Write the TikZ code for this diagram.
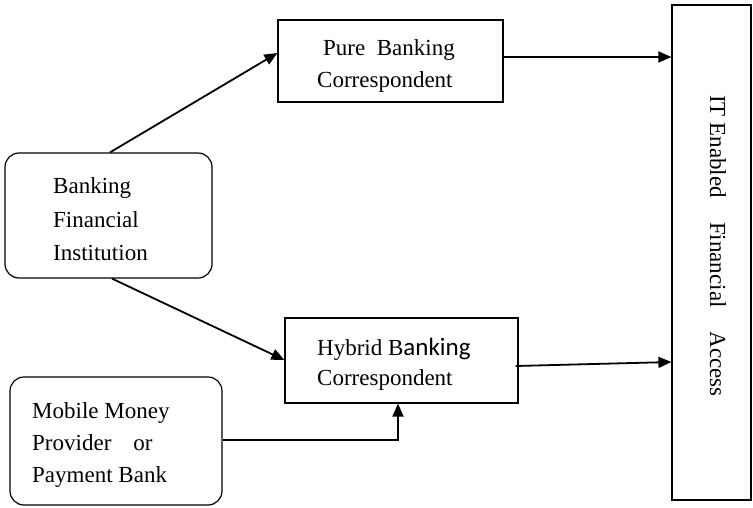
\documentclass[tikz,border=0pt]{standalone}
\usepackage{fontspec}
\setmainfont{Liberation Serif}
\newfontfamily\altsans{Carlito}
\usetikzlibrary{arrows.meta,calc}
\begin{document}
\begin{tikzpicture}[x=1pt,y=1pt,
  box/.style={draw,line width=1.2pt,inner sep=0pt},
  rbox/.style={box,rounded corners=14pt},
  lbl/.style={anchor=base west,inner sep=0pt,font=\fontsize{23}{28}\selectfont},
  arr/.style={line width=1.8pt,-{Triangle[length=13pt,width=11pt]}}]
\useasboundingbox (0,0) rectangle (753,-507);

% boxes
\node[box,minimum width=225pt,minimum height=82pt] (pure) at (390.5,-61) {};
\node[box,minimum width=233pt,minimum height=85pt] (hybrid) at (401.5,-360.5) {};
\node[rbox,minimum width=207pt,minimum height=125pt] (fi) at (108.5,-215.5) {};
\node[rbox,minimum width=212pt,minimum height=128pt] (mob) at (116,-441) {};
\node[box,minimum width=79pt,minimum height=495pt] (itfa) at (711.5,-252.5) {};

% labels
\node[lbl] (pure1) at (323,-55) {Pure\ \ Banking};
\node[lbl] (pure2) at (317,-87) {Correspondent};
\node[lbl] (hyb1) at (317,-355) {Hybrid B{\altsans\fontsize{25}{28}\selectfont anking}};
\node[lbl] (hyb2) at (317,-385) {Correspondent};
\node[lbl] (fi1) at (53,-193) {Banking};
\node[lbl] (fi2) at (53,-227) {Financial};
\node[lbl] (fi3) at (53,-260) {Institution};
\node[lbl] (mob1) at (32,-418) {Mobile Money};
\node[lbl] (mob2) at (32,-450) {Provider\hspace{22pt}or};
\node[lbl] (mob3) at (32,-482) {Payment Bank};
\node[inner sep=0pt,rotate=-90,font=\fontsize{23}{28}\selectfont] (itfaT) at (718,-246)
  {IT Enabled\hspace{24pt}Financial\hspace{24pt}Access};

% connectors
\draw[arr] ([xshift=1.5pt]fi.north) -- (pure.west |- 0,-53);
\draw[arr] ([xshift=3.5pt]fi.south) -- (hybrid.west |- 0,-360);
\draw[arr] (pure.east |- 0,-57) -- (itfa.west |- 0,-57);
\draw[arr] ($(hybrid.east |- 0,-366)+(-3,0)$) -- (itfa.west |- 0,-362);
\draw[arr] (mob.east |- 0,-440) -| (hybrid.south -| 398,0);
\end{tikzpicture}
\end{document}
